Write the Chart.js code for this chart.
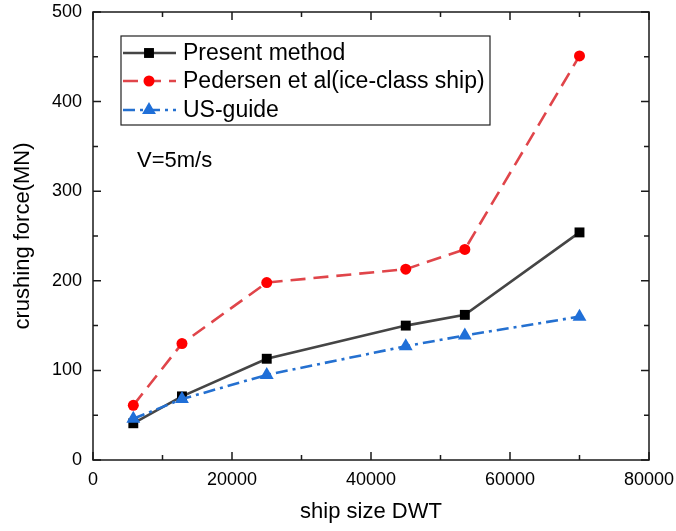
<!DOCTYPE html>
<html>
<head>
<meta charset="utf-8">
<script src="https://cdn.jsdelivr.net/npm/chart.js@4.4.0/dist/chart.umd.min.js"></script>
<style>
  html, body { margin: 0; padding: 0; background: #fff; }
  #wrap { width: 676px; height: 531px; }
</style>
</head>
<body>
<div id="wrap"><canvas id="crushChart"></canvas></div>
<script>
// dados
const shipSize = [5800, 12800, 25000, 45000, 53500, 70000];
const presentMethod = [41, 71, 113, 150, 162, 254];
const pedersen = [61, 130, 198, 213, 235, 451];
const usGuide = [46, 68, 95, 127, 139, 160];
const seriesNames = ["Present method", "Pedersen et al(ice-class ship)", "US-guide"];
const annotationText = "V=5m/s";

const FONT = "'Liberation Sans', Arial, sans-serif";

const toPoints = (ys) => shipSize.map((x, i) => ({ x: x, y: ys[i] }));

// caixa, ticks para dentro, legenda e anotação
const framePlugin = {
  id: "frame",
  afterDraw(chart) {
    const ctx = chart.ctx;
    const { left, right, top, bottom } = chart.chartArea;
    const xs = chart.scales.x;
    const ys = chart.scales.y;
    ctx.save();
    ctx.strokeStyle = "#1a1a1a";
    ctx.lineWidth = 1.5;
    ctx.strokeRect(left, top, right - left, bottom - top);

    const drawTicks = (scale, horizontal) => {
      const vals = scale.ticks.map((t) => t.value);
      const minors = [];
      for (let i = 0; i < vals.length - 1; i++) minors.push((vals[i] + vals[i + 1]) / 2);
      const mark = (v, len) => {
        const p = scale.getPixelForValue(v);
        ctx.beginPath();
        if (horizontal) {
          ctx.moveTo(p, bottom); ctx.lineTo(p, bottom - len);
          ctx.moveTo(p, top); ctx.lineTo(p, top + len);
        } else {
          ctx.moveTo(left, p); ctx.lineTo(left + len, p);
          ctx.moveTo(right, p); ctx.lineTo(right - len, p);
        }
        ctx.stroke();
      };
      vals.forEach((v) => mark(v, 8));
      minors.forEach((v) => mark(v, 5));
    };
    drawTicks(xs, true);
    drawTicks(ys, false);

    // legenda
    const lx = 121, ly = 36, lw = 369, lh = 89;
    ctx.lineWidth = 1.2;
    ctx.strokeStyle = "#222";
    ctx.strokeRect(lx, ly, lw, lh);
    const rows = [53, 81, 110];
    chart.data.datasets.forEach((ds, i) => {
      const y = rows[i];
      ctx.save();
      ctx.strokeStyle = ds.borderColor;
      ctx.lineWidth = ds.borderWidth;
      ctx.setLineDash(ds.borderDash || []);
      ctx.beginPath();
      ctx.moveTo(123, y);
      ctx.lineTo(176, y);
      ctx.stroke();
      ctx.restore();
      ctx.save();
      ctx.fillStyle = ds.pointBackgroundColor;
      ctx.strokeStyle = ds.pointBackgroundColor;
      Chart.helpers.drawPoint(ctx, {
        pointStyle: ds.pointStyle,
        radius: ds.pointRadius,
        borderWidth: 0,
        rotation: 0
      }, 149, y);
      ctx.restore();
      ctx.fillStyle = "#000";
      ctx.font = "23px " + FONT;
      ctx.textBaseline = "middle";
      ctx.textAlign = "left";
      ctx.fillText(ds.label, 183, y + 1);
    });

    ctx.fillStyle = "#000";
    ctx.font = "22px " + FONT;
    ctx.textBaseline = "middle";
    ctx.fillText(annotationText, 137, 161);
    ctx.restore();
  }
};

const ctx = document.getElementById("crushChart").getContext("2d");
new Chart(ctx, {
  type: "line",
  data: {
    datasets: [
      {
        label: seriesNames[0],
        data: toPoints(presentMethod),
        borderColor: "#454545",
        borderWidth: 2.6,
        pointStyle: "rect",
        pointRadius: 7,
        pointBackgroundColor: "#000",
        pointBorderColor: "#000",
        pointBorderWidth: 0,
        order: 1
      },
      {
        label: seriesNames[1],
        data: toPoints(pedersen),
        borderColor: "#e0454a",
        borderWidth: 2.6,
        borderDash: [15, 8],
        pointStyle: "circle",
        pointRadius: 5.5,
        pointBackgroundColor: "#ff0000",
        pointBorderColor: "#ff0000",
        pointBorderWidth: 0,
        order: 2
      },
      {
        label: seriesNames[2],
        data: toPoints(usGuide),
        borderColor: "#2470d0",
        borderWidth: 2.6,
        borderDash: [12, 5, 3, 5],
        pointStyle: "triangle",
        pointRadius: 8,
        pointBackgroundColor: "#1f6fd8",
        pointBorderColor: "#1f6fd8",
        pointBorderWidth: 0,
        order: 0
      }
    ]
  },
  options: {
    responsive: true,
    maintainAspectRatio: false,
    animation: false,
    layout: { padding: { left: 0, right: 27, top: 12, bottom: 0 } },
    plugins: { legend: { display: false }, tooltip: { enabled: false } },
    elements: { line: { tension: 0, fill: false } },
    scales: {
      x: {
        type: "linear",
        min: 0,
        max: 80000,
        grid: { display: false, drawTicks: false },
        border: { display: false },
        ticks: {
          stepSize: 20000,
          padding: 9,
          color: "#000",
          font: { family: FONT, size: 18 },
          maxRotation: 0,
          callback: (v) => String(v)
        },
        title: {
          display: true,
          text: "ship size DWT",
          color: "#000",
          font: { family: FONT, size: 22 },
          padding: { top: 0, bottom: 6 }
        },
        afterFit: (s) => { s.height = 71; s.paddingLeft = 0; s.paddingRight = 0; }
      },
      y: {
        min: 0,
        max: 500,
        grid: { display: false, drawTicks: false },
        border: { display: false },
        ticks: {
          stepSize: 100,
          padding: 11,
          color: "#000",
          font: { family: FONT, size: 18 }
        },
        title: {
          display: true,
          text: "crushing force(MN)",
          color: "#000",
          font: { family: FONT, size: 22 },
          padding: { top: 10, bottom: 0 }
        },
        afterFit: (s) => { s.width = 93; s.paddingTop = 0; s.paddingBottom = 0; }
      }
    }
  },
  plugins: [framePlugin]
});
</script>
</body>
</html>
